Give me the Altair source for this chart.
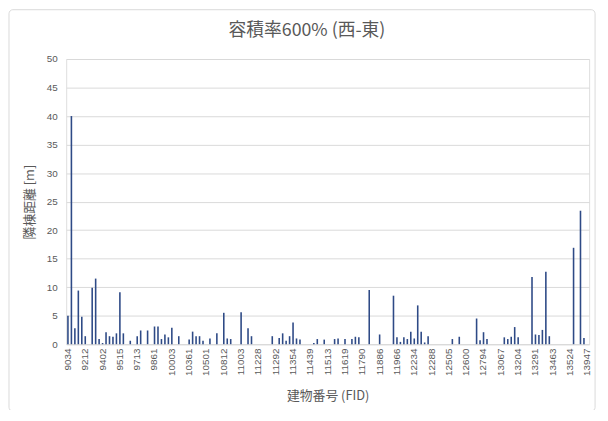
import altair as alt
import pandas as pd

chart_title = "容積率600% (西-東)"
x_title = "建物番号 (FID)"
y_title = "隣棟距離 [m]"

# every 5th category carries a label
tick_labels = ["9034", "9212", "9402", "9515", "9713", "9861", "10003", "10361",
               "10501", "10812", "11003", "11228", "11292", "11354", "11439",
               "11513", "11619", "11790", "11886", "11966", "12234", "12288",
               "12505", "12600", "12794", "13067", "13204", "13291", "13463",
               "13524", "13947"]

# distance [m] for each building in order (151 buildings)
values = [
    5.0, 40.0, 2.8, 9.4, 4.8, 1.4, 0.0, 9.9, 11.5, 0.9,
    0.2, 2.1, 1.4, 1.3, 1.9, 9.1, 1.9, 0.0, 0.6, 0.0,
    1.4, 2.4, 0.0, 2.4, 0.0, 3.1, 3.1, 0.9, 1.7, 1.2,
    2.9, 0.0, 1.4, 0.0, 0.0, 0.8, 2.2, 1.4, 1.4, 0.6,
    0.0, 1.0, 0.0, 1.9, 0.0, 5.5, 1.0, 0.9, 0.0, 0.0,
    5.6, 0.0, 2.8, 1.4, 0.0, 0.0, 0.0, 0.0, 0.0, 1.4,
    0.0, 1.1, 1.9, 0.6, 1.4, 3.8, 1.0, 0.8, 0.0, 0.0,
    0.0, 0.2, 0.9, 0.0, 0.8, 0.0, 0.0, 0.9, 1.0, 0.0,
    0.9, 0.0, 0.9, 1.3, 1.2, 0.0, 0.0, 9.5, 0.0, 0.0,
    1.7, 0.0, 0.0, 0.0, 8.5, 1.2, 0.4, 1.2, 0.9, 2.2,
    1.0, 6.8, 2.2, 0.3, 1.4, 0.0, 0.0, 0.0, 0.0, 0.0,
    0.0, 0.9, 0.0, 1.3, 0.0, 0.0, 0.0, 0.0, 4.5, 0.7,
    2.1, 0.9, 0.0, 0.0, 0.0, 0.0, 1.2, 0.9, 1.3, 3.0,
    1.2, 0.0, 0.0, 0.0, 11.8, 1.7, 1.6, 2.5, 12.7, 1.4,
    0.0, 0.0, 0.0, 0.0, 0.0, 0.0, 16.9, 0.0, 23.4, 1.1,
    0.0,
]

y_ticks = [0, 5, 10, 15, 20, 25, 30, 35, 40, 45, 50]

df = pd.DataFrame({"pos": list(range(len(values))), "value": values})
label_js = "[" + ",".join("'" + t + "'" for t in tick_labels) + "]"

txt = "#595959"
num_font = "Liberation Sans"
jp_font = "Noto Sans CJK JP"

bars = alt.Chart(df).mark_bar(color="#2E4A86", size=1.6).encode(
    x=alt.X(
        "pos:O",
        title=x_title,
        scale=alt.Scale(paddingInner=0, paddingOuter=0),
        axis=alt.Axis(
            values=list(range(0, len(values), 5)),
            labelExpr=label_js + "[datum.value/5]",
            labelAngle=270,
            labelFont=num_font,
            labelFontSize=10,
            labelColor=txt,
            labelPadding=4,
            ticks=False,
            domainColor="#d9d9d9",
            grid=False,
            titleFont=jp_font,
            titleFontSize=13,
            titleFontWeight="normal",
            titleColor=txt,
            titlePadding=14,
        ),
    ),
    y=alt.Y(
        "value:Q",
        title=y_title,
        scale=alt.Scale(domain=[0, 50], nice=False),
        axis=alt.Axis(
            values=y_ticks,
            labelFont=num_font,
            labelFontSize=10,
            labelColor=txt,
            labelPadding=9,
            ticks=False,
            domain=False,
            gridColor="#d9d9d9",
            titleFont=jp_font,
            titleFontSize=13,
            titleFontWeight="normal",
            titleColor=txt,
            titlePadding=10,
        ),
    ),
)

border = alt.Chart(alt.Data(values=[{"a": 1}])).mark_rect(
    fillOpacity=0, stroke="#d9d9d9", strokeWidth=1, cornerRadius=4
).encode(
    x=alt.value(-58), x2=alt.value(536), y=alt.value(-50), y2=alt.value(357)
)

chart = alt.layer(border, bars).properties(
    width=530,
    height=289,
    autosize="none",
    padding={"left": 59, "top": 49, "right": 11, "bottom": 64},
    title=alt.TitleParams(
        text=chart_title,
        font=jp_font,
        fontSize=18,
        fontWeight="normal",
        color=txt,
        frame="group",
        anchor="middle",
        baseline="bottom",
        dx=-21,
        dy=65,
        offset=16,
    ),
).configure_view(stroke=None).configure(background="white")

chart.save("out.html", embed_options={"renderer": "svg", "actions": False})
